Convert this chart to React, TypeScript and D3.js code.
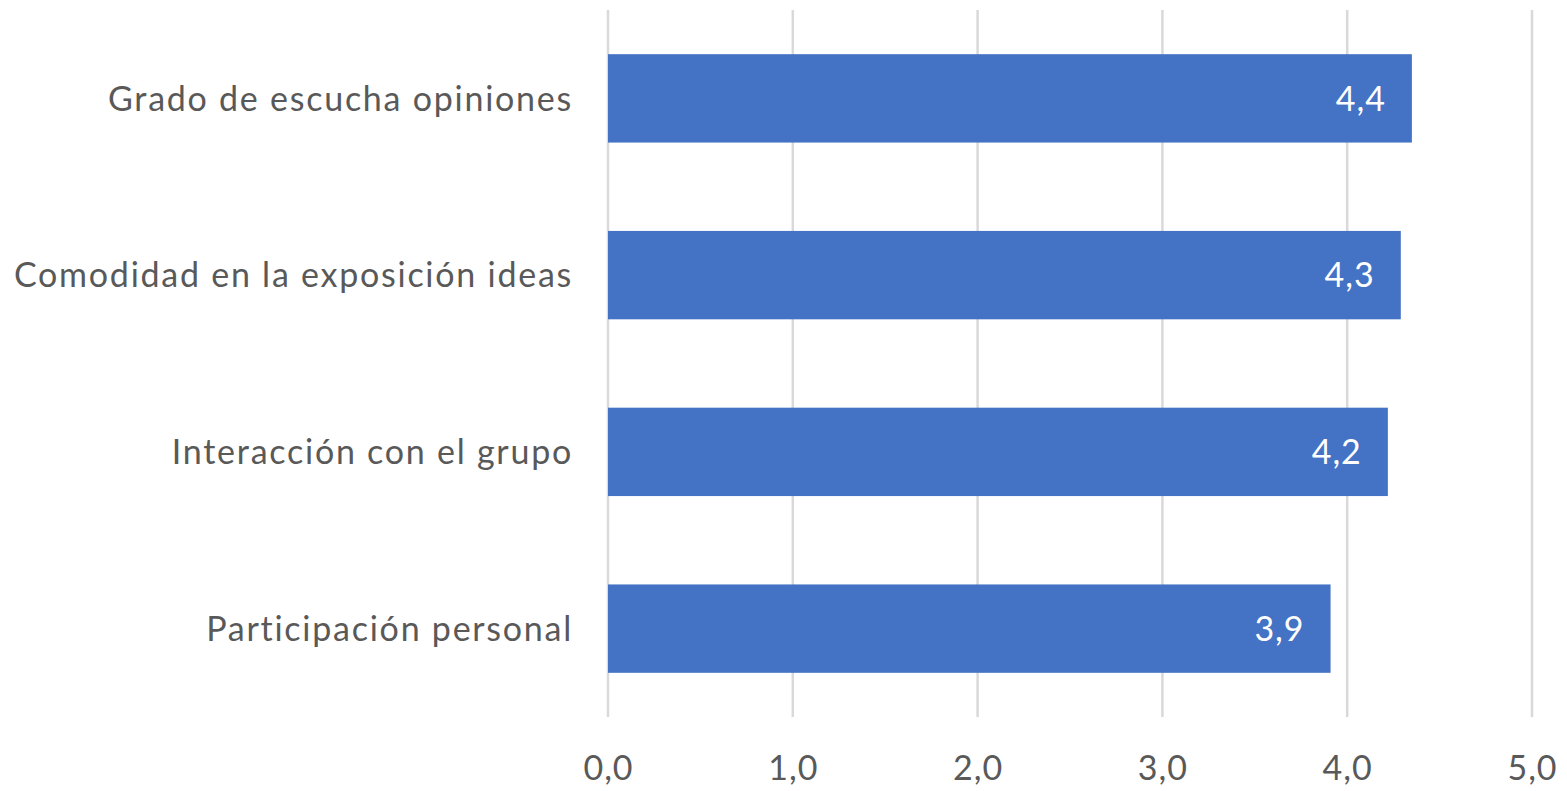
import React from 'react';
import * as d3 from 'd3';

const categories = [
  'Grado de escucha opiniones',
  'Comodidad en la exposición ideas',
  'Interacción con el grupo',
  'Participación personal',
];
const values = [4.35, 4.29, 4.22, 3.91];
const xTicks = [0, 1, 2, 3, 4, 5];

const width = 1567;
const height = 791;
const margin = { top: 10, right: 35, bottom: 74, left: 608 };

const fmt = (v: number) => (Math.round(v * 10) / 10).toFixed(1).replace('.', ',');

export default function App() {
  const innerW = width - margin.left - margin.right;
  const innerH = height - margin.top - margin.bottom;

  const x = d3.scaleLinear().domain([0, 5]).range([0, innerW]);
  const y = d3
    .scaleBand<string>()
    .domain(categories)
    .range([0, innerH])
    .paddingInner(0.5)
    .paddingOuter(0.25);

  const font = 'Lato, "Open Sans", sans-serif';

  return (
    <svg
      width={width}
      height={height}
      style={{ position: 'absolute', left: 0, top: 0, background: '#fff' }}
      fontFamily={font}
    >
      <g transform={`translate(${margin.left},${margin.top})`}>
        {/* vertical gridlines */}
        {xTicks.map((t) => (
          <line
            key={t}
            x1={x(t)}
            x2={x(t)}
            y1={0}
            y2={innerH}
            stroke="#d9d9d9"
            strokeWidth={2.5}
          />
        ))}

        {/* bars */}
        {categories.map((c, i) => (
          <rect
            key={c}
            x={x(0)}
            y={y(c)}
            width={x(values[i]) - x(0)}
            height={y.bandwidth()}
            fill="#4472c4"
          />
        ))}

        {/* data labels */}
        {categories.map((c, i) => (
          <text
            key={c}
            x={x(values[i]) - 26}
            y={(y(c) ?? 0) + y.bandwidth() / 2}
            dy="0.36em"
            textAnchor="end"
            fill="#ffffff"
            fontSize={34}
            letterSpacing={1}
          >
            {fmt(values[i])}
          </text>
        ))}

        {/* category labels */}
        {categories.map((c) => (
          <text
            key={c}
            x={-35}
            y={(y(c) ?? 0) + y.bandwidth() / 2}
            dy="0.36em"
            textAnchor="end"
            fill="#595959"
            fontSize={34}
            letterSpacing={1.75}
          >
            {c}
          </text>
        ))}

        {/* x tick labels */}
        {xTicks.map((t) => (
          <text
            key={t}
            x={x(t) + 0.5}
            y={innerH + 63}
            textAnchor="middle"
            fill="#595959"
            fontSize={34}
            letterSpacing={1}
          >
            {fmt(t)}
          </text>
        ))}
      </g>
    </svg>
  );
}
